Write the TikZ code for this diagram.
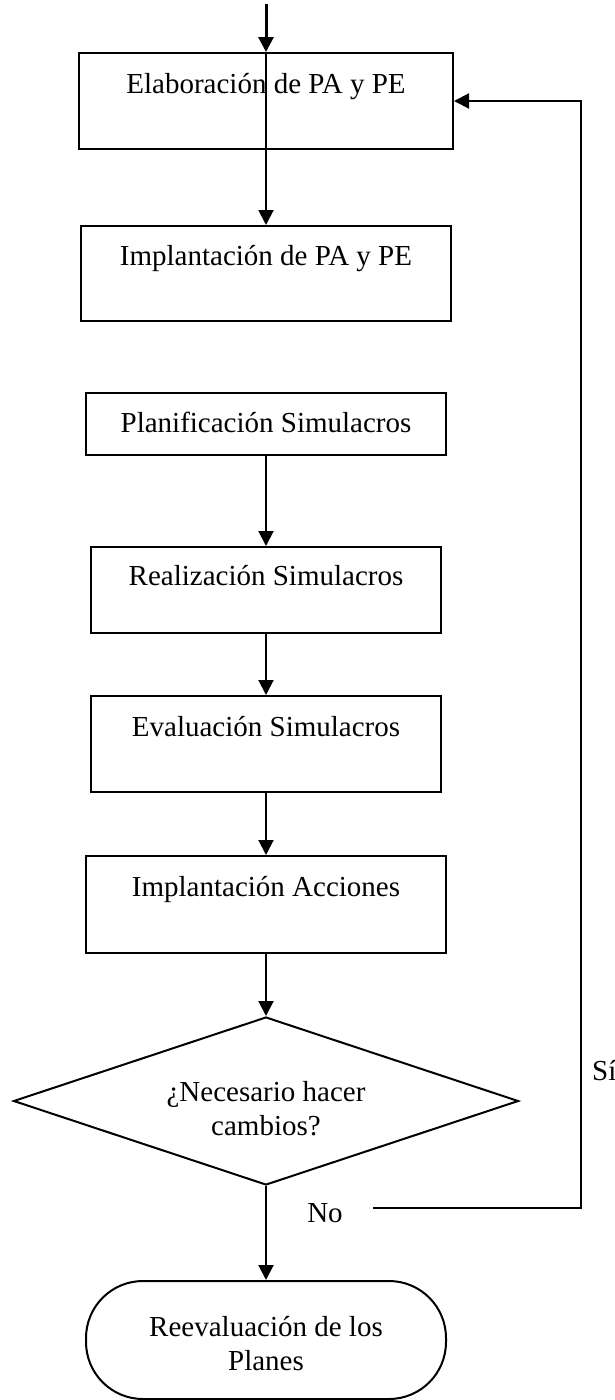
\documentclass[tikz,border=0pt]{standalone}
\usepackage{fontspec}
\setmainfont{Liberation Serif}
\usetikzlibrary{shapes.geometric,arrows.meta}
\begin{document}
\begin{tikzpicture}[x=1pt,y=-1pt,
  caja/.style={draw,line width=2pt,inner sep=0pt,align=center,font=\fontsize{29}{34}\selectfont,text height=20pt,text depth=36pt},
  texto/.style={inner sep=0pt,font=\fontsize{29}{34}\selectfont},
  flecha/.style={line width=2pt,-{Triangle[width=15pt,length=15pt]}}]
\useasboundingbox (0,0) rectangle (615,1400);
% boxes, top to bottom
\node[caja,minimum width=374,minimum height=96] (elab) at (266,101) {Elaboración de PA y PE};
\node[caja,minimum width=370,minimum height=95] (impl) at (266,273.5) {Implantación de PA y PE};
\node[caja,minimum width=360,minimum height=62,text depth=4pt] (plan) at (266,424) {Planificación Simulacros};
\node[caja,minimum width=350,minimum height=86,text depth=30pt] (real) at (266,590) {Realización Simulacros};
\node[caja,minimum width=350,minimum height=96] (eval) at (266,744) {Evaluación Simulacros};
\node[caja,minimum width=360,minimum height=97] (acc) at (266,904.5) {Implantación Acciones};
\node[draw,line width=2pt,diamond,aspect=3,inner sep=0pt,minimum width=505,minimum height=168,
  align=center,font=\fontsize{29}{34}\selectfont,text height=75pt,text depth=7pt] (dec) at (266,1101) {¿Necesario hacer\\cambios?};
\node[draw,line width=2pt,rounded corners=57,inner sep=0pt,minimum width=360,minimum height=118,
  align=center,font=\fontsize{29}{34}\selectfont,text height=67pt,text depth=7pt] (reev) at (266,1340) {Reevaluación de los\\Planes};
% labels
\node[texto] (no) at (325,1213) {No};
\node[texto,anchor=west] (si) at (592,1071) {Sí};
\coordinate (entrada) at (266,4);
\coordinate (sino) at (373,1208);
\coordinate (esq) at (581,1208);
% connectors
\draw[line width=3pt,-{Triangle[width=15pt,length=15pt]}] (entrada) -- (elab.north);
\draw[line width=1.2pt] (elab.north) -- (elab.south); % line through the first box
\draw[flecha] (elab.south) -- (impl.north);
\foreach \a/\b in {plan/real,real/eval,eval/acc,acc/dec,dec/reev}
\draw[flecha] (\a) -- (\b);
\draw[flecha] (sino) -- (esq) |- (elab.east);
\end{tikzpicture}
\end{document}
